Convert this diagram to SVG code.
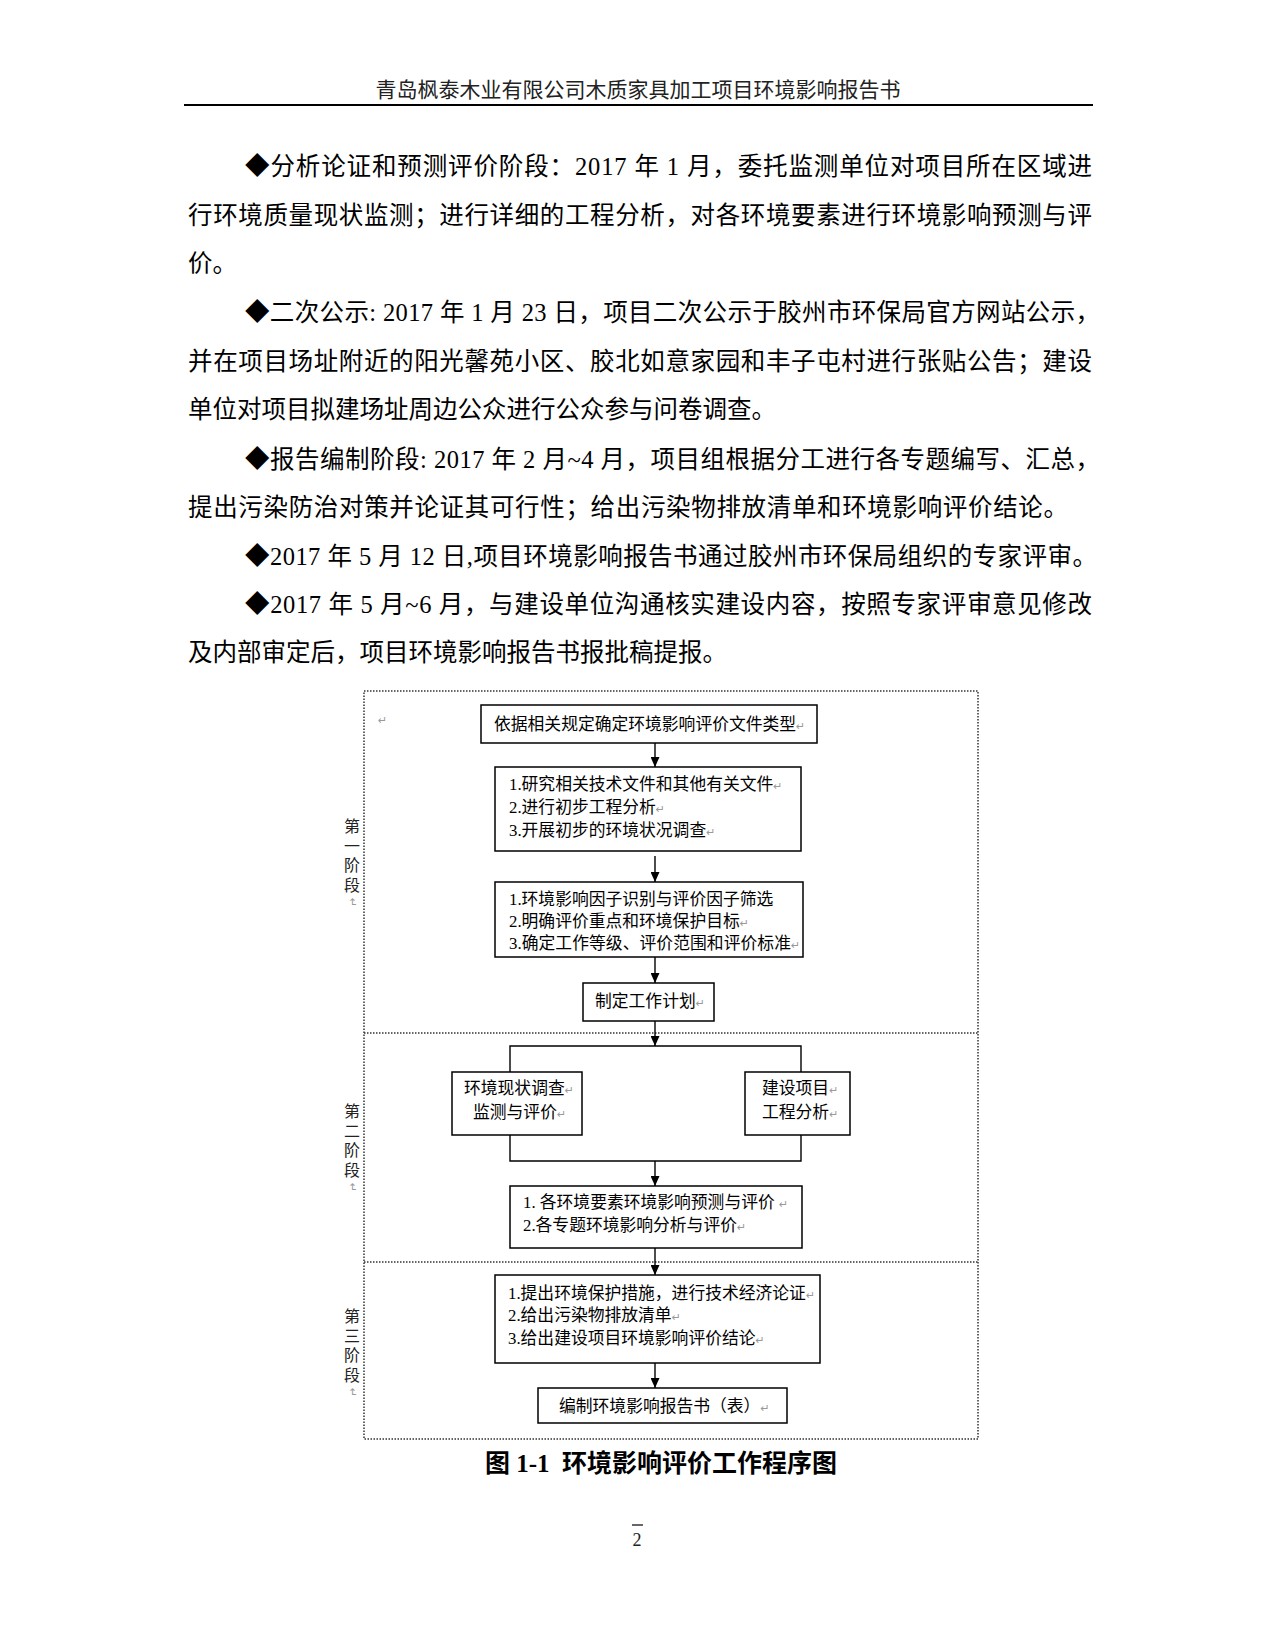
<svg xmlns="http://www.w3.org/2000/svg" width="1275" height="1650" viewBox="0 0 1275 1650">
<style>
.hdr{font-family:"Liberation Serif","Noto Sans CJK SC",serif;font-size:21px;fill:#222;}
.p{font-family:"Liberation Serif","Noto Sans CJK SC",serif;font-size:24.5px;fill:#000;}
.bx{fill:#fff;stroke:#000;stroke-width:1.5;}
.t{font-family:"Liberation Serif","Noto Sans CJK SC",sans-serif;font-size:16.8px;fill:#000;}
.rm{font-family:"DejaVu Sans",sans-serif;font-size:11px;fill:#999;}
.stg{font-family:"Noto Sans CJK SC",sans-serif;font-size:16px;fill:#222;writing-mode:vertical-rl;letter-spacing:3.7px;}
.dash{fill:none;stroke:#333;stroke-width:1.5;stroke-dasharray:1.5 1.5;}
.con{fill:none;stroke:#000;stroke-width:1.4;}
.cap{font-family:"Liberation Serif","Noto Sans CJK SC",serif;font-size:25px;font-weight:bold;fill:#000;}
</style>
<defs>
<marker id="ah" markerUnits="userSpaceOnUse" markerWidth="10" markerHeight="9" refX="10" refY="4.5" orient="auto">
<path d="M0,0 L10,4.5 L0,9 z" fill="#000"/>
</marker>
</defs>
<rect width="1275" height="1650" fill="#fff"/>

<g id="header">
<text class="hdr" x="638" y="97" text-anchor="middle">青岛枫泰木业有限公司木质家具加工项目环境影响报告书</text>
<line x1="184" y1="105" x2="1093" y2="105" stroke="#000" stroke-width="2"/>
</g>

<g id="body-text">
<text class="p" x="245" y="175" textLength="847" lengthAdjust="spacing">◆分析论证和预测评价阶段：2017 年 1 月，委托监测单位对项目所在区域进</text>
<text class="p" x="188" y="224" textLength="904" lengthAdjust="spacing">行环境质量现状监测；进行详细的工程分析，对各环境要素进行环境影响预测与评</text>
<text class="p" x="188" y="272">价。</text>
<text class="p" x="245" y="321" textLength="855" lengthAdjust="spacing">◆二次公示: 2017 年 1 月 23 日，项目二次公示于胶州市环保局官方网站公示，</text>
<text class="p" x="188" y="370" textLength="904" lengthAdjust="spacing">并在项目场址附近的阳光馨苑小区、胶北如意家园和丰子屯村进行张贴公告；建设</text>
<text class="p" x="188" y="418">单位对项目拟建场址周边公众进行公众参与问卷调查。</text>
<text class="p" x="245" y="468" textLength="855" lengthAdjust="spacing">◆报告编制阶段: 2017 年 2 月~4 月，项目组根据分工进行各专题编写、汇总，</text>
<text class="p" x="188" y="516" textLength="880" lengthAdjust="spacing">提出污染防治对策并论证其可行性；给出污染物排放清单和环境影响评价结论。</text>
<text class="p" x="245" y="565" textLength="852" lengthAdjust="spacing">◆2017 年 5 月 12 日,项目环境影响报告书通过胶州市环保局组织的专家评审。</text>
<text class="p" x="245" y="613" textLength="847" lengthAdjust="spacing">◆2017 年 5 月~6 月，与建设单位沟通核实建设内容，按照专家评审意见修改</text>
<text class="p" x="188" y="661">及内部审定后，项目环境影响报告书报批稿提报。</text>
</g>

<g id="frame">
<rect class="dash" x="364" y="691" width="614" height="748"/>
<line class="dash" x1="364" y1="1033" x2="978" y2="1033"/>
<line class="dash" x1="364" y1="1262" x2="978" y2="1262"/>
<text class="rm" x="378" y="724">↵</text>
</g>

<g id="stage1">
<text class="stg" x="352" y="818">第一阶段</text>
<text class="rm" x="0" y="0" transform="translate(349,898) rotate(90)" font-size="9">↵</text>
</g>
<g id="stage2">
<text class="stg" x="352" y="1103">第二阶段</text>
<text class="rm" x="0" y="0" transform="translate(349,1183) rotate(90)" font-size="9">↵</text>
</g>
<g id="stage3">
<text class="stg" x="352" y="1308">第三阶段</text>
<text class="rm" x="0" y="0" transform="translate(349,1388) rotate(90)" font-size="9">↵</text>
</g>

<g id="connectors">
<line class="con" x1="655" y1="743" x2="655" y2="767" marker-end="url(#ah)"/>
<line class="con" x1="655" y1="856" x2="655" y2="882" marker-end="url(#ah)"/>
<line class="con" x1="655" y1="957" x2="655" y2="983" marker-end="url(#ah)"/>
<line class="con" x1="655" y1="1021" x2="655" y2="1046" marker-end="url(#ah)"/>
<path class="con" d="M510,1072 V1046 H801 V1072"/>
<path class="con" d="M510,1135 V1161 H801 V1135"/>
<line class="con" x1="655" y1="1161" x2="655" y2="1186" marker-end="url(#ah)"/>
<line class="con" x1="655" y1="1248" x2="655" y2="1275" marker-end="url(#ah)"/>
<line class="con" x1="655" y1="1363" x2="655" y2="1388" marker-end="url(#ah)"/>
</g>

<g id="n1">
<rect class="bx" x="481" y="705" width="336" height="38"/>
<text class="t" x="494" y="730">依据相关规定确定环境影响评价文件类型<tspan class="rm">↵</tspan></text>
</g>
<g id="n2">
<rect class="bx" x="495" y="767" width="306" height="84"/>
<text class="t" x="509" y="790">1.研究相关技术文件和其他有关文件<tspan class="rm">↵</tspan></text>
<text class="t" x="509" y="813">2.进行初步工程分析<tspan class="rm">↵</tspan></text>
<text class="t" x="509" y="836">3.开展初步的环境状况调查<tspan class="rm">↵</tspan></text>
</g>
<g id="n3">
<rect class="bx" x="495" y="882" width="308" height="75"/>
<text class="t" x="509" y="905">1.环境影响因子识别与评价因子筛选</text>
<text class="t" x="509" y="927">2.明确评价重点和环境保护目标<tspan class="rm">↵</tspan></text>
<text class="t" x="509" y="949" textLength="282" lengthAdjust="spacing">3.确定工作等级、评价范围和评价标准</text>
<text class="rm" x="791" y="949">↵</text>
</g>
<g id="n4">
<rect class="bx" x="583" y="983" width="131" height="38"/>
<text class="t" x="595" y="1007">制定工作计划<tspan class="rm">↵</tspan></text>
</g>
<g id="n5">
<rect class="bx" x="452" y="1072" width="130" height="63"/>
<text class="t" x="464" y="1094">环境现状调查<tspan class="rm">↵</tspan></text>
<text class="t" x="473" y="1118">监测与评价<tspan class="rm">↵</tspan></text>
</g>
<g id="n6">
<rect class="bx" x="745" y="1072" width="105" height="63"/>
<text class="t" x="762" y="1094">建设项目<tspan class="rm">↵</tspan></text>
<text class="t" x="762" y="1118">工程分析<tspan class="rm">↵</tspan></text>
</g>
<g id="n7">
<rect class="bx" x="510" y="1186" width="292" height="62"/>
<text class="t" x="523" y="1208">1. 各环境要素环境影响预测与评价 <tspan class="rm">↵</tspan></text>
<text class="t" x="523" y="1231">2.各专题环境影响分析与评价<tspan class="rm">↵</tspan></text>
</g>
<g id="n8">
<rect class="bx" x="495" y="1275" width="325" height="88"/>
<text class="t" x="508" y="1299">1.提出环境保护措施，进行技术经济论证<tspan class="rm">↵</tspan></text>
<text class="t" x="508" y="1321">2.给出污染物排放清单<tspan class="rm">↵</tspan></text>
<text class="t" x="508" y="1344">3.给出建设项目环境影响评价结论<tspan class="rm">↵</tspan></text>
</g>
<g id="n9">
<rect class="bx" x="538" y="1388" width="249" height="35"/>
<text class="t" x="559" y="1412">编制环境影响报告书（表）<tspan class="rm">↵</tspan></text>
</g>

<g id="caption">
<text class="cap" x="661" y="1472" text-anchor="middle">图 1-1&#160; 环境影响评价工作程序图</text>
</g>

<g id="page-number">
<line x1="632" y1="1525" x2="643" y2="1525" stroke="#000" stroke-width="1.2"/>
<text x="637" y="1546" text-anchor="middle" font-family="Liberation Serif" font-size="18" fill="#222">2</text>
</g>
</svg>
